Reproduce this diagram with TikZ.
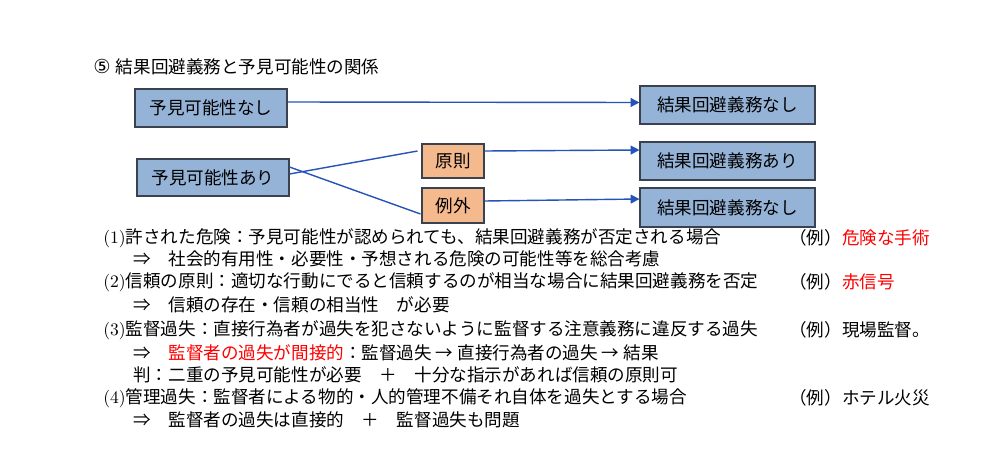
\documentclass[tikz,border=0pt]{standalone}
\usepackage{fontspec}
\newfontfamily\jp{Noto Sans CJK JP}
\newfontfamily\dv{DejaVu Sans}
\newcommand\lnum[1]{{\rmfamily\fontsize{10pt}{12pt}\selectfont #1}}
\usetikzlibrary{arrows.meta}
\definecolor{boxblue}{HTML}{95B3D7}
\definecolor{boxorange}{HTML}{F5B98E}
\definecolor{edgedark}{HTML}{3A4250}
\definecolor{lineblue}{HTML}{2553B8}
\begin{document}
\begin{tikzpicture}[x=0.02cm,y=-0.02cm,
  bluebox/.style={draw=edgedark,line width=0.6pt,fill=boxblue,inner sep=0pt,font=\jp\fontsize{10pt}{12pt}\selectfont},
  orangebox/.style={draw=edgedark,line width=0.6pt,fill=boxorange,inner sep=0pt,font=\jp\fontsize{10pt}{12pt}\selectfont},
  conn/.style={draw=lineblue,line width=0.8pt},
  arr/.style={conn,-{Triangle[length=5pt,width=5pt]}},
  txt/.style={anchor=west,inner sep=0pt,font=\jp\fontsize{10pt}{12pt}\selectfont}]
\useasboundingbox (0,0) rectangle (1000,473);
% title
\node[txt] (title) at (93,67) {{\dv\fontsize{11pt}{12pt}\selectfont ⑤}\hspace{3pt}結果回避義務と予見可能性の関係};
% boxes
\node[bluebox,minimum width=152*0.02cm,minimum height=38*0.02cm] (yn) at (211,108) {予見可能性なし};
\node[bluebox,minimum width=152*0.02cm,minimum height=37*0.02cm] (ya) at (213,177.5) {予見可能性あり};
\node[orangebox,minimum width=62*0.02cm,minimum height=34*0.02cm] (gen) at (453,161) {原則};
\node[orangebox,minimum width=62*0.02cm,minimum height=35*0.02cm] (rei) at (453,205.5) {例外};
\node[bluebox,minimum width=175*0.02cm,minimum height=38*0.02cm] (r1) at (727.5,105) {結果回避義務なし};
\node[bluebox,minimum width=175*0.02cm,minimum height=38*0.02cm] (r2) at (727.5,161) {結果回避義務あり};
\node[bluebox,minimum width=175*0.02cm,minimum height=39*0.02cm] (r3) at (727.5,207.5) {結果回避義務なし};
% connectors
\draw[arr] ([yshift=0.12cm]yn.east) -- ([yshift=0.05cm]r1.west);
\draw[conn] ([yshift=0.07cm]ya.east) -- ([xshift=-0.08cm,yshift=0.2cm]gen.west);
\draw[conn] ([yshift=0.21cm]ya.east) -- ([xshift=-0.02cm,yshift=-0.17cm]rei.west);
\draw[arr] ([yshift=0.2cm]gen.east) -- ([yshift=0.22cm]r2.west);
\draw[arr] ([yshift=0.09cm]rei.east) -- ([yshift=0.17cm]r3.west);
% text lines
\node[txt] (l1) at (103,238) {\lnum{(1)}許された危険：予見可能性が認められても、結果回避義務が否定される場合};
\node[txt] (e1) at (789,238) {（例）\textcolor{red}{危険な手術}};
\node[txt] (l2) at (133,259) {⇒　社会的有用性・必要性・予想される危険の可能性等を総合考慮};
\node[txt] (l3) at (103,282) {\lnum{(2)}信頼の原則：適切な行動にでると信頼するのが相当な場合に結果回避義務を否定};
\node[txt] (e3) at (789,282) {（例）\textcolor{red}{赤信号}};
\node[txt] (l4) at (133,305) {⇒　信頼の存在・信頼の相当性　が必要};
\node[txt] (l5) at (103,330) {\lnum{(3)}監督過失：直接行為者が過失を犯さないように監督する注意義務に違反する過失};
\node[txt] (e5) at (789,330) {（例）現場監督。};
\node[txt] (l6) at (133,353) {⇒　\textcolor{red}{監督者の過失が間接的}：監督過失 → 直接行為者の過失 → 結果};
\node[txt] (l7) at (133,375) {判：二重の予見可能性が必要　＋　十分な指示があれば信頼の原則可};
\node[txt] (l8) at (103,398) {\lnum{(4)}管理過失：監督者による物的・人的管理不備それ自体を過失とする場合};
\node[txt] (e8) at (789,398) {（例）ホテル火災};
\node[txt] (l9) at (133,420) {⇒　監督者の過失は直接的　＋　監督過失も問題};
\end{tikzpicture}
\end{document}
